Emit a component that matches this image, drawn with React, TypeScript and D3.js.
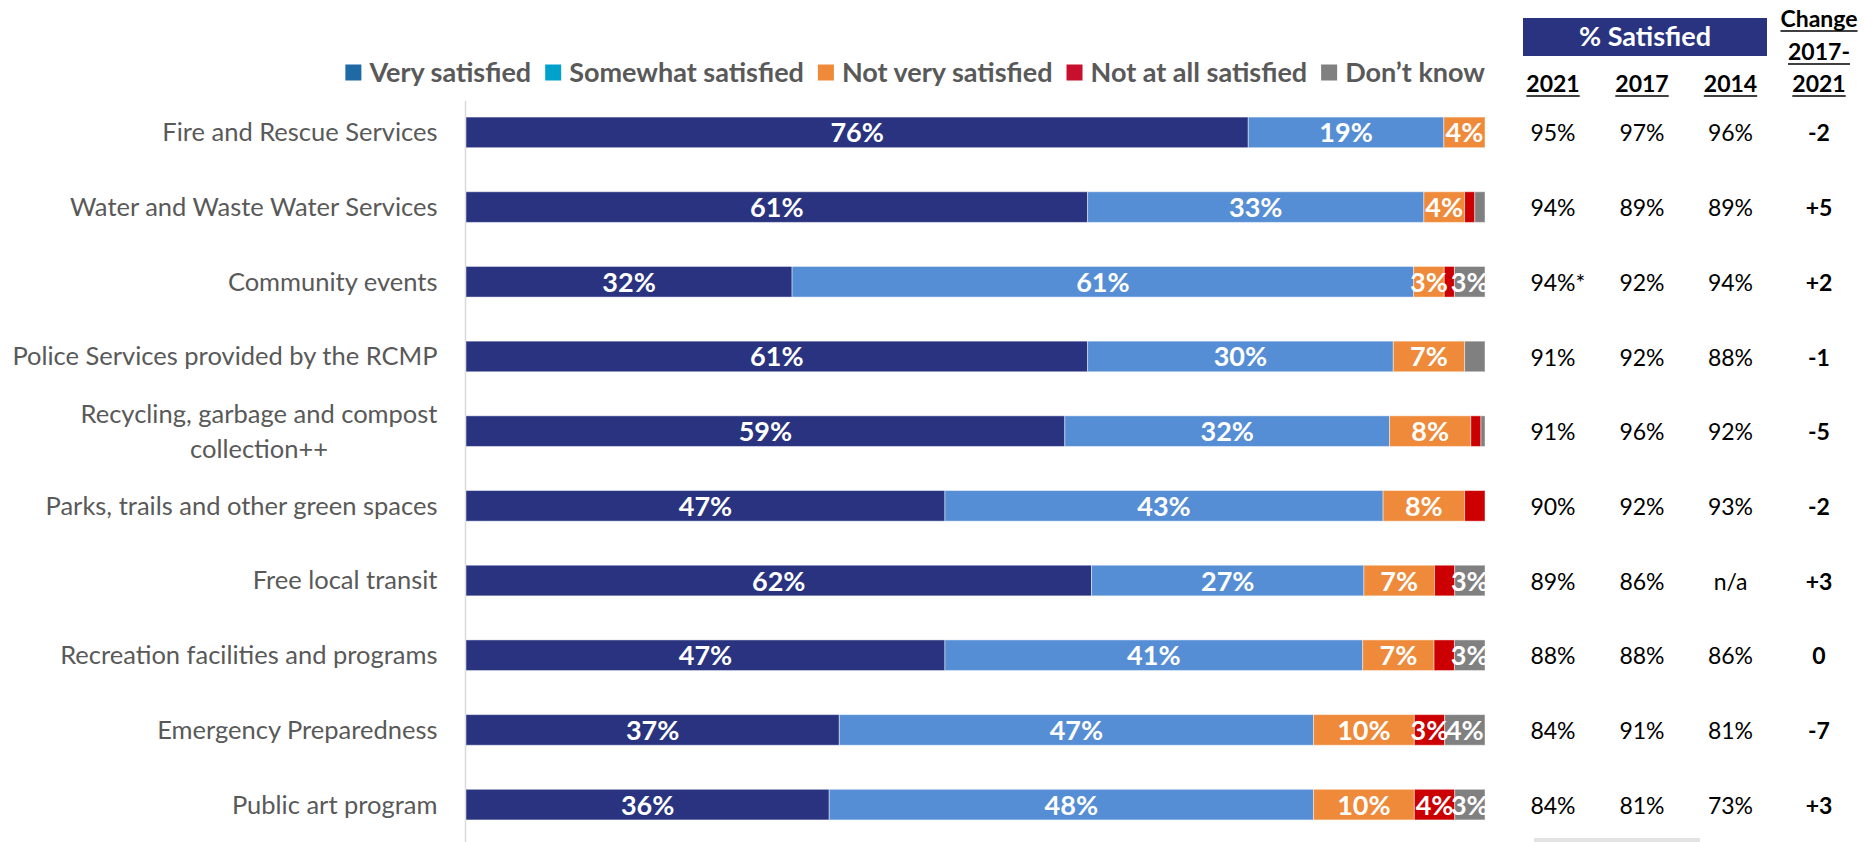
import React, { useEffect, useRef } from 'react'
import * as d3 from 'd3'

// services, top to bottom
const services = [
  'Fire and Rescue Services',
  'Water and Waste Water Services',
  'Community events',
  'Police Services provided by the RCMP',
  'Recycling, garbage and compost\ncollection++',
  'Parks, trails and other green spaces',
  'Free local transit',
  'Recreation facilities and programs',
  'Emergency Preparedness',
  'Public art program',
]

const seriesNames = ['Very satisfied', 'Somewhat satisfied', 'Not very satisfied', 'Not at all satisfied', 'Don’t know']
const verySatisfied = [76, 61, 32, 61, 59, 47, 62, 47, 37, 36]
const somewhatSatisfied = [19, 33, 61, 30, 32, 43, 27, 41, 47, 48]
const notVerySatisfied = [4, 4, 3, 7, 8, 8, 7, 7, 10, 10]
const notAtAllSatisfied = [0, 1, 1, 0, 1, 2, 2, 2, 3, 4]
const dontKnow = [0, 1, 3, 2, 0.4, 0, 3, 3, 4, 3]

const barColors = ['#293380', '#558ED5', '#EE8A3A', '#CC0000', '#808080']
const legendColors = ['#1F69A5', '#00A2CC', '#EF8A3A', '#C8102E', '#808080']

// % satisfied table
const years = ['2021', '2017', '2014']
const satisfied2021 = [95, 94, 94, 91, 91, 90, 89, 88, 84, 84]
const satisfied2017 = [97, 89, 92, 92, 96, 92, 86, 88, 91, 81]
const satisfied2014 = [96, 89, 94, 88, 92, 93, null, 86, 81, 73]
const change1721 = [-2, 5, 2, -1, -5, -2, 3, 0, -7, 3]
const starred2021 = ['Community events']

const W = 1864
const H = 842
const FONT = 'Lato, "Open Sans", sans-serif'
const TEXT_GRAY = '#595959'

function App() {
  const ref = useRef<SVGSVGElement>(null)

  useEffect(() => {
    const svg = d3.select(ref.current)
    svg.selectAll('*').remove()

    const keys = ['a', 'b', 'c', 'd', 'e']
    const rows = services.map((s, i) => ({
      name: s,
      a: verySatisfied[i],
      b: somewhatSatisfied[i],
      c: notVerySatisfied[i],
      d: notAtAllSatisfied[i],
      e: dontKnow[i],
    }))
    const stacked = d3.stack<any>().keys(keys).offset(d3.stackOffsetExpand)(rows)

    const x = d3.scaleLinear().domain([0, 1]).range([466, 1485])
    const y = d3.scaleBand().domain(services).range([73, 864]).padding(0.59)
    const bw = y.bandwidth()

    svg.append('defs').append('clipPath').attr('id', 'plotclip')
      .append('rect').attr('x', x(0)).attr('y', 0).attr('width', x(1) - x(0)).attr('height', H)

    // category axis line
    svg.append('line')
      .attr('x1', x(0) - 0.5).attr('x2', x(0) - 0.5)
      .attr('y1', y(services[0])! - 16).attr('y2', H)
      .attr('stroke', '#d9d9d9').attr('stroke-width', 1.5)

    const layers = svg.append('g').selectAll('g').data(stacked).join('g')
      .attr('fill', (_, i) => barColors[i])
    layers.selectAll('rect').data(d => d).join('rect')
      .attr('x', d => x(d[0]))
      .attr('width', d => x(d[1]) - x(d[0]))
      .attr('y', d => y(d.data.name)!)
      .attr('height', bw)
      .attr('stroke', 'rgba(255,255,255,0.45)')
      .attr('stroke-width', 1)

    const labels = svg.append('g').attr('clip-path', 'url(#plotclip)')
    stacked.forEach(layer => {
      layer.forEach(d => {
        const v = d.data[layer.key]
        if (v < 3) return
        labels.append('text')
          .attr('x', (x(d[0]) + x(d[1])) / 2)
          .attr('y', y(d.data.name)! + bw / 2 + 10)
          .attr('text-anchor', 'middle')
          .attr('font-family', FONT).attr('font-weight', 700).attr('font-size', 27)
          .attr('fill', '#fff')
          .text(`${v}%`)
      })
    })

    // row labels
    services.forEach(s => {
      const lines = s.split('\n')
      const cy = y(s)! + bw / 2
      const t = svg.append('text')
        .attr('font-family', FONT).attr('font-size', 25.5).attr('fill', TEXT_GRAY)
        .attr('text-anchor', lines.length > 1 ? 'middle' : 'end')
      const spans = lines.map((ln, i) => t.append('tspan')
        .attr('y', cy + (i - (lines.length - 1) / 2) * 35)
        .attr('dy', '0.35em')
        .text(ln))
      if (lines.length > 1) {
        const maxW = d3.max(spans, sp => (sp.node() as SVGTSpanElement).getComputedTextLength()) || 0
        spans.forEach(sp => sp.attr('x', 437.5 - maxW / 2))
      } else {
        spans.forEach(sp => sp.attr('x', 437.5))
      }
    })

    // legend, right aligned to bar end
    const lg = svg.append('g')
    let cursor = x(1)
    for (let i = seriesNames.length - 1; i >= 0; i--) {
      const t = lg.append('text')
        .attr('y', 72.5).attr('dy', '0.35em')
        .attr('font-family', FONT).attr('font-weight', 700).attr('font-size', 27)
        .attr('fill', TEXT_GRAY)
        .text(seriesNames[i])
      const w = (t.node() as SVGTextElement).getComputedTextLength()
      const tx = cursor - w
      t.attr('x', tx)
      lg.append('rect')
        .attr('x', tx - 8 - 16).attr('y', 64.5).attr('width', 16).attr('height', 16)
        .attr('fill', legendColors[i])
      cursor = tx - 8 - 16 - 14
    }

    // table
    const colX = [1553, 1642, 1730.5]
    const changeX = 1819
    const tbl = svg.append('g').attr('font-family', FONT)

    tbl.append('rect').attr('x', 1523).attr('y', 18).attr('width', 244).attr('height', 38).attr('fill', '#293380')
    tbl.append('text').attr('x', 1645).attr('y', 37).attr('dy', '0.35em')
      .attr('text-anchor', 'middle').attr('font-weight', 700).attr('font-size', 27).attr('fill', '#fff')
      .text('% Satisfied')

    const underlined = (tx: number, ty: number, str: string) => {
      const t = tbl.append('text').attr('x', tx).attr('y', ty)
        .attr('text-anchor', 'middle').attr('font-weight', 700).attr('font-size', 23).attr('fill', '#000')
        .text(str)
      const w = (t.node() as SVGTextElement).getComputedTextLength()
      tbl.append('line').attr('x1', tx - w / 2).attr('x2', tx + w / 2)
        .attr('y1', ty + 4).attr('y2', ty + 4).attr('stroke', '#000').attr('stroke-width', 1.5)
    }
    years.forEach((yr, i) => underlined(colX[i], 92, yr))
    underlined(changeX, 27, 'Change')
    underlined(changeX, 60, '2017-')
    underlined(changeX, 92, '2021')

    const pct = (v: number | null) => (v == null ? 'n/a' : `${v}%`)
    const cols = [satisfied2021, satisfied2017, satisfied2014]
    services.forEach((s, r) => {
      const cy = y(s)! + bw / 2 + 1
      cols.forEach((col, c) => {
        const t = tbl.append('text').attr('x', colX[c]).attr('y', cy).attr('dy', '0.35em')
          .attr('text-anchor', 'middle').attr('font-size', 23).attr('fill', '#000')
          .text(pct(col[r]))
        if (c === 0 && starred2021.includes(s)) {
          const w = (t.node() as SVGTextElement).getComputedTextLength()
          tbl.append('text').attr('x', colX[c] + w / 2).attr('y', cy).attr('dy', '0.35em')
            .attr('font-size', 23).attr('fill', '#000').text('*')
        }
      })
      const ch = change1721[r]
      tbl.append('text').attr('x', changeX).attr('y', cy).attr('dy', '0.35em')
        .attr('text-anchor', 'middle').attr('font-weight', 700).attr('font-size', 23).attr('fill', '#000')
        .text(ch > 0 ? `+${ch}` : `${ch}`)
    })

    // faint scrollbar-like strip at the bottom
    svg.append('rect').attr('x', 1534).attr('y', 838).attr('width', 166).attr('height', 4).attr('fill', '#e3e3e3')
  }, [])

  return (
    <svg
      ref={ref}
      width={W}
      height={H}
      style={{ position: 'absolute', left: 0, top: 0, background: '#fff' }}
    />
  )
}

export default App
